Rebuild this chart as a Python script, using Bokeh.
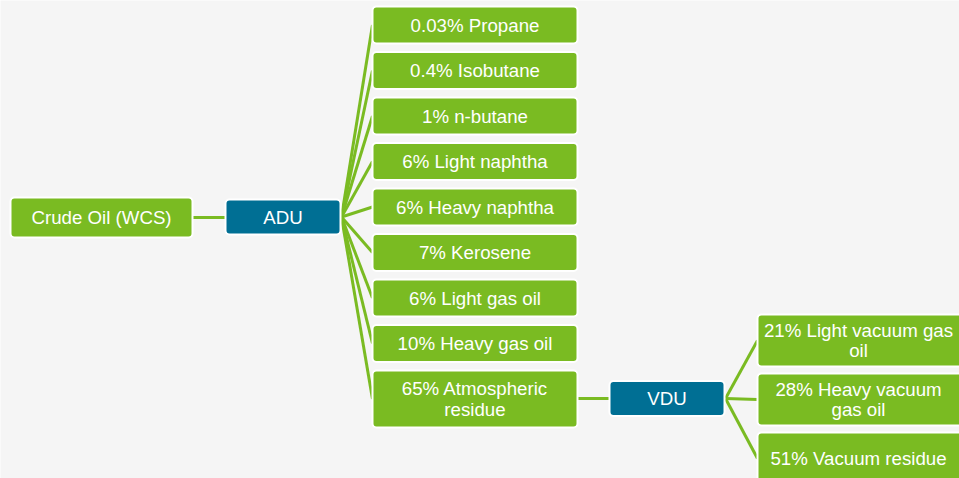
from bokeh.plotting import figure
from bokeh.models import Range1d, ColumnDataSource
from bokeh.core.properties import value
from bokeh.embed import file_html
from bokeh.resources import INLINE

# ---- data ----
feed_label = "Crude Oil (WCS)"
unit1 = "ADU"
unit2 = "VDU"
adu_pct = [0.03, 0.4, 1, 6, 6, 7, 6, 10, 65]
adu_names = ["Propane", "Isobutane", "n-butane", "Light naphtha", "Heavy naphtha",
             "Kerosene", "Light gas oil", "Heavy gas oil", "Atmospheric\nresidue"]
vdu_pct = [21, 28, 51]
vdu_names = ["Light vacuum gas\noil", "Heavy vacuum\ngas oil", "Vacuum residue"]

GREEN = "#7abb22"
BLUE = "#006f94"
BG = "#f5f5f5"
FONT = value("Liberation Sans")

p = figure(width=959, height=478, x_range=Range1d(0, 959), y_range=Range1d(478, 0),
           output_backend="svg", toolbar_location=None, min_border=0)
p.axis.visible = False
p.grid.visible = False
p.outline_line_color = None
p.background_fill_color = BG
p.border_fill_color = BG

# ---- layout ----
c2_l, c2_r = 372, 577
c2_top0, c2_pitch, c2_h = 6, 45.5, 37
c2_big_h = 57
tops = [c2_top0 + c2_pitch * i for i in range(len(adu_pct))]
heights = [c2_h] * (len(adu_pct) - 1) + [c2_big_h]
c2_bottoms = [t + h for t, h in zip(tops, heights)]
c2_cy = [(t + b) / 2 for t, b in zip(tops, c2_bottoms)]
c2_labels = [f"{v:g}% {n}" for v, n in zip(adu_pct, adu_names)]

feed_box = (10, 192, 197, 237)
adu_box = (225, 340, 199, 234)
adu_cy = (adu_box[2] + adu_box[3]) / 2
feed_cy = (feed_box[2] + feed_box[3]) / 2

res_cy = c2_cy[-1]
vdu_box = (609, 724, res_cy - 18, res_cy + 17)
vdu_cy = (vdu_box[2] + vdu_box[3]) / 2

c4_l, c4_r = 757, 962
c4_tops = [314 + 59 * i for i in range(len(vdu_pct))]
c4_h = 52
c4_cy = [t + c4_h / 2 for t in c4_tops]
c4_labels = [f"{v:g}% {n}" for v, n in zip(vdu_pct, vdu_names)]

# ---- connectors ----
seg_x0, seg_y0, seg_x1, seg_y1 = [], [], [], []
seg_x0.append(feed_box[1]); seg_y0.append(feed_cy); seg_x1.append(adu_box[0]); seg_y1.append(feed_cy)
for cy in c2_cy:
    seg_x0.append(adu_box[1] + 1); seg_y0.append(adu_cy); seg_x1.append(c2_l); seg_y1.append(cy)
seg_x0.append(c2_r); seg_y0.append(vdu_cy); seg_x1.append(vdu_box[0]); seg_y1.append(vdu_cy)
for cy in c4_cy:
    seg_x0.append(vdu_box[1] + 1); seg_y0.append(vdu_cy); seg_x1.append(c4_l); seg_y1.append(cy)
p.segment(seg_x0, seg_y0, seg_x1, seg_y1, line_color=GREEN, line_width=3)

# ---- boxes ----
def boxes(lefts, rights, tops_, bottoms, color):
    p.quad(left=lefts, right=rights, top=tops_, bottom=bottoms, fill_color=color,
           line_color="white", line_width=2, border_radius=4)

boxes([feed_box[0]], [feed_box[1]], [feed_box[2]], [feed_box[3]], GREEN)
boxes([adu_box[0]], [adu_box[1]], [adu_box[2]], [adu_box[3]], BLUE)
boxes([c2_l] * len(tops), [c2_r] * len(tops), tops, c2_bottoms, GREEN)
boxes([vdu_box[0]], [vdu_box[1]], [vdu_box[2]], [vdu_box[3]], BLUE)
boxes([c4_l] * len(c4_tops), [c4_r] * len(c4_tops), c4_tops, [t + c4_h for t in c4_tops], GREEN)

# ---- labels ----
lx = [(feed_box[0] + feed_box[1]) / 2, (adu_box[0] + adu_box[1]) / 2, (vdu_box[0] + vdu_box[1]) / 2]
ly = [feed_cy, adu_cy, vdu_cy]
lt = [feed_label, unit1, unit2]
lx += [(c2_l + c2_r) / 2] * len(c2_labels) + [(c4_l + c4_r) / 2 - 1.5] * len(c4_labels)
ly += c2_cy + c4_cy
lt += c2_labels + c4_labels
src = ColumnDataSource(dict(x=lx, y=ly, t=lt))
p.text(x="x", y="y", text="t", source=src, text_color="white", text_font=FONT,
       text_font_size="18.7px", text_align="center", text_baseline="middle",
       text_line_height=0.98)

open("out.html", "w").write(file_html(p, INLINE))
